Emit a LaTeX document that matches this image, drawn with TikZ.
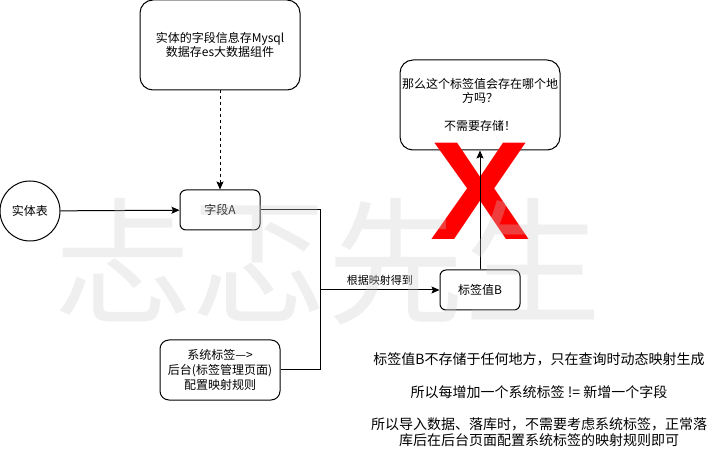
\documentclass[tikz,border=0pt]{standalone}
\usepackage{fontspec}
\setmainfont{Noto Sans CJK SC}
\newfontfamily\xfont{Liberation Sans}
\usetikzlibrary{arrows.meta}
\begin{document}
\begin{tikzpicture}[x=1pt,y=-1pt,
  every node/.style={inner sep=0pt},
  box/.style={draw, line width=1pt, rounded corners=6pt, align=center,
    font=\fontsize{12}{14}\selectfont},
  conn/.style={line width=1pt},
  arr/.style={conn, -{Stealth[length=8pt,width=7pt,inset=1.5pt]}},
  dasharr/.style={arr, dash pattern=on 3pt off 3pt},
  lbl/.style={font=\fontsize{11}{13}\selectfont},
  note/.style={align=center, font=\fontsize{14}{16.2}\selectfont},
  bigx/.style={text={rgb,255:red,255;green,0;blue,0}, font=\xfont\bfseries\fontsize{140}{140}\selectfont},
  wmark/.style={text=black!20, opacity=0.3, font=\fontsize{137}{137}\selectfont}
]
\useasboundingbox (0,0) rectangle (713,473);
\fill[white] (0,0) rectangle (713,473);

% nodes
\node[box, rounded corners=13pt, minimum width=160pt, minimum height=90pt] (top) at (220,45)
  {实体的字段信息存Mysql\\数据存es大数据组件};
\node[draw, line width=1pt, circle, minimum size=60pt, font=\fontsize{12}{14}\selectfont] (ent) at (30,211) {实体表};
\node[box, minimum width=80pt, minimum height=40pt] (fa) at (220,210) {字段A};
\node[box, minimum width=80pt, minimum height=40pt] (tb) at (480,290) {标签值B};
\node[box, rounded corners=9pt, minimum width=120pt, minimum height=60pt,
  font=\fontsize{12}{15}\selectfont] (sys) at (220,370)
  {系统标签—>\\后台(标签管理页面)\\配置映射规则};
\node[box, rounded corners=13pt, minimum width=160pt, minimum height=90pt] (q) at (480,105) {};
\node[align=center, font=\fontsize{12}{14}\selectfont, anchor=north] (qt) at (480,78)
  {那么这个标签值会存在哪个地\\方吗？\\[14pt]不需要存储！};

% red X
\node[bigx, anchor=base, xscale=1.07] (x) at (480,240) {X};

% connectors
\coordinate (j) at (320,290);
\draw[dasharr] (top) -- (fa);
\draw[arr] (ent) -- (fa);
\draw[conn] (fa.east) -| (j);
\draw[arr] (j) -- node[lbl, above=4pt] (ml) {根据映射得到} (tb.west);
\draw[conn] (sys.east) -| (j);
\draw[arr] (tb) -- (q);

% note
\node[note] (nt) at (539,400)
  {标签值B不存储于任何地方，只在查询时动态映射生成\\[16.2pt]
   所以每增加一个系统标签 != 新增一个字段\\[16.2pt]
   所以导入数据、落库时，不需要考虑系统标签，正常落\\
   库后在后台页面配置系统标签的映射规则即可};

% watermark
\node[wmark] (wm) at (328,262) {忐忑先生};
\end{tikzpicture}
\end{document}
